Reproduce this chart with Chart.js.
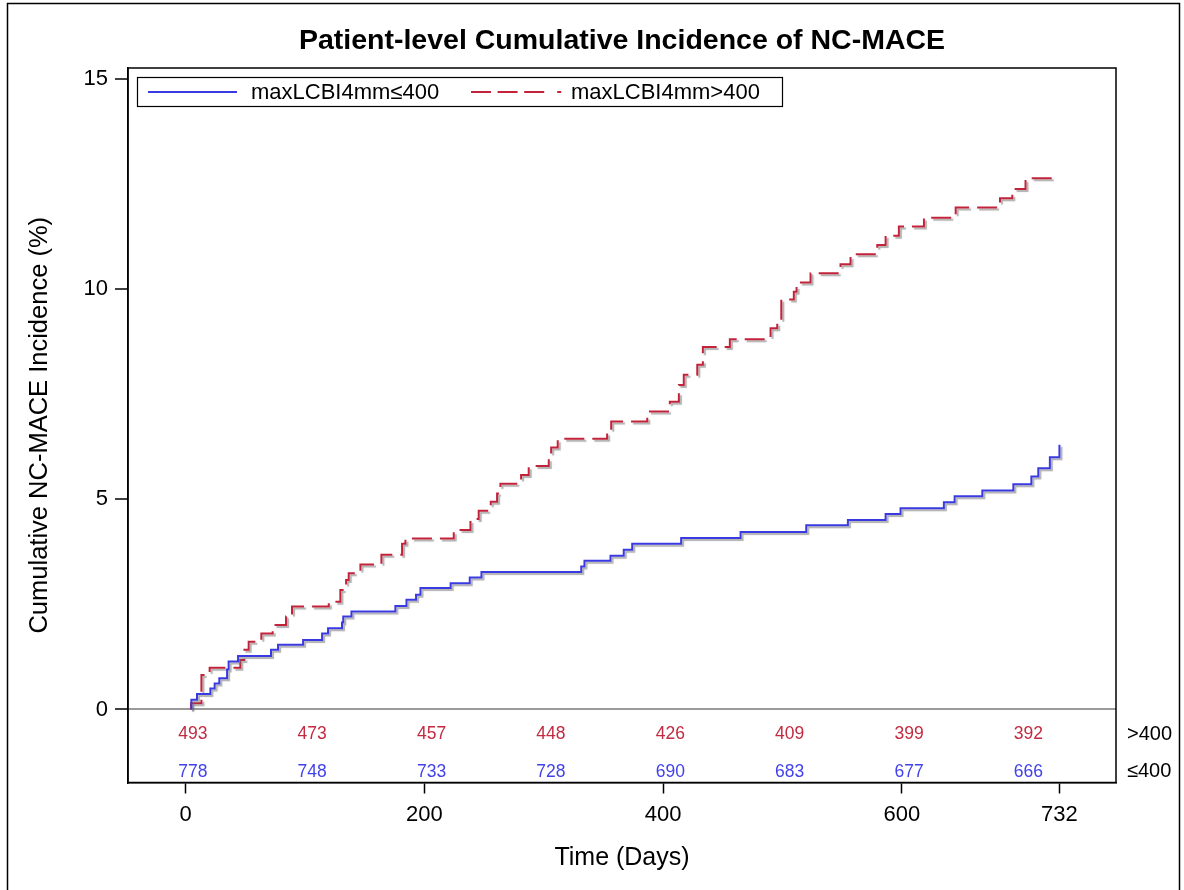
<!DOCTYPE html>
<html>
<head>
<meta charset="utf-8">
<title>Patient-level Cumulative Incidence of NC-MACE</title>
<script src="https://cdn.jsdelivr.net/npm/chart.js@4.4.0/dist/chart.umd.min.js"></script>
<style>
  html, body { margin: 0; padding: 0; background: #fff; }
  #wrap { width: 1184px; height: 890px; position: relative; }
</style>
</head>
<body>
<div id="wrap"><canvas id="kmChart"></canvas></div>
<script>
/*************** data ***************/
// maxLCBI4mm<=400 (blue, solid)
const lowDays = [4.8, 4.8, 9.5, 20.7, 24.3, 28.2, 34.7, 36, 43.9, 71.5,
  77.4, 98.4, 114.3, 119.3, 131, 132, 138.9, 175.7, 185, 193,
  196.7, 222, 238, 247.8, 331.4, 334.1, 355.9, 367, 374.1, 415.1,
  464.9, 519.9, 554.8, 586.4, 598.9, 635.2, 644.2, 667.4, 693.4, 708.5,
  714.3, 724, 732];
const lowPct = [0, 0.23, 0.37, 0.50, 0.62, 0.74, 0.95, 1.14, 1.27, 1.42,
  1.54, 1.65, 1.81, 1.93, 2.07, 2.21, 2.33, 2.46, 2.61, 2.73,
  2.89, 3.00, 3.14, 3.27, 3.40, 3.54, 3.66, 3.80, 3.94, 4.08,
  4.22, 4.38, 4.51, 4.65, 4.79, 4.93, 5.07, 5.21, 5.36, 5.54,
  5.74, 6.00, 6.30];

// maxLCBI4mm>400 (red, dashed)
const highDays = [4.5, 4.5, 13.2, 20.1, 45.8, 49.2, 52.8, 63.4, 72.9, 84.1,
  89.1, 119.9, 129.6, 134.4, 136.6, 146.4, 164, 181.3, 184.1, 224.6,
  238.6, 245.5, 255.6, 260.9, 263.7, 281, 287.4, 304.2, 306.2, 311.7,
  353.1, 356.5, 386.7, 405.6, 413.2, 417.3, 428.6, 433.3, 455.9, 490,
  495.6, 499, 509.5, 511.8, 523.5, 548.6, 557, 579.4, 586.4, 597.5,
  618.5, 645.1, 682.2, 692.5, 703.6, 732];
const highPct = [0, 0.15, 0.82, 0.99, 1.18, 1.42, 1.61, 1.81, 2.01, 2.21,
  2.45, 2.56, 2.84, 3.08, 3.24, 3.45, 3.68, 3.94, 4.07, 4.27,
  4.53, 4.73, 4.94, 5.14, 5.37, 5.58, 5.79, 6.06, 6.23, 6.44,
  6.65, 6.85, 7.09, 7.32, 7.72, 7.96, 8.20, 8.62, 8.81, 9.07,
  9.27, 9.75, 9.94, 10.16, 10.38, 10.59, 10.83, 11.05, 11.27, 11.49,
  11.70, 11.94, 12.16, 12.38, 12.64, 12.64];

// numbers at risk
const atRiskDays = [6, 106, 206, 306, 406, 506, 606, 706];
const atRiskHigh = [493, 473, 457, 448, 426, 409, 399, 392];
const atRiskLow = [778, 748, 733, 728, 690, 683, 677, 666];

// axes
const xTicks = [0, 200, 400, 600, 732];
const yTicks = [0, 5, 10, 15];

const seriesNames = ['maxLCBI4mm\u2264400', 'maxLCBI4mm>400'];
const rowLabels = ['>400', '\u2264400'];

/*************** styles ***************/
const FONT = "'Liberation Sans', Arial, sans-serif";
const BLUE = '#3a3ae2';
const RED = '#c3223b';
const BLUE_TXT = '#4242ea';
const RED_TXT = '#c22a40';
const DASH = [20, 8];

function toPoints(days, pct) {
  return days.map((d, i) => ({ x: d, y: pct[i] }));
}

/*************** plugins ***************/
// gray drop shadow under the step lines
const shadowPlugin = {
  id: 'stepShadow',
  beforeDatasetDraw(chart) {
    const c = chart.ctx;
    c.save();
    c.shadowColor = 'rgba(110,110,110,0.55)';
    c.shadowOffsetX = 2;
    c.shadowOffsetY = 2;
    c.shadowBlur = 1;
  },
  afterDatasetDraw(chart) {
    chart.ctx.restore();
  }
};

// title, frame, legend, at-risk rows, outer border
const decorPlugin = {
  id: 'decor',
  afterDraw(chart) {
    const c = chart.ctx;
    const a = chart.chartArea;
    const xs = chart.scales.x;
    const ys = chart.scales.y;
    c.save();

    // outer border
    c.strokeStyle = '#000';
    c.lineWidth = 1.5;
    c.strokeRect(7.5, 3.5, 1172, 900);

    // plot frame
    c.lineWidth = 1.5;
    c.strokeRect(a.left, a.top, a.right - a.left, a.bottom - a.top);

    // title
    c.fillStyle = '#000';
    c.font = 'bold 28.5px ' + FONT;
    c.textAlign = 'center';
    c.textBaseline = 'middle';
    c.fillText('Patient-level Cumulative Incidence of NC-MACE', (a.left + a.right) / 2, 41);

    // legend
    const lx = a.left + 9, ly = a.top + 9, lw = 645, lh = 29;
    c.lineWidth = 1.2;
    c.strokeRect(lx + 0.5, ly + 0.5, lw, lh);
    const my = ly + lh / 2 + 0.5;
    c.lineWidth = 2;
    c.strokeStyle = BLUE;
    c.beginPath(); c.moveTo(lx + 11, my); c.lineTo(lx + 100, my); c.stroke();
    c.strokeStyle = RED;
    c.setLineDash([20, 6.6, 20, 6.6, 20, 13, 4, 40]);
    c.beginPath(); c.moveTo(lx + 334, my); c.lineTo(lx + 425, my); c.stroke();
    c.setLineDash([]);
    c.fillStyle = '#000';
    c.font = '22px ' + FONT;
    c.textAlign = 'left';
    c.fillText(seriesNames[0], lx + 114, my + 1);
    c.fillText(seriesNames[1], lx + 434, my + 1);

    // numbers at risk
    const yHigh = ys.getPixelForValue(-0.583);
    const yLow = ys.getPixelForValue(-1.48);
    c.font = '17.5px ' + FONT;
    c.textAlign = 'center';
    atRiskDays.forEach((d, i) => {
      const px = xs.getPixelForValue(d);
      c.fillStyle = RED_TXT;
      c.fillText(String(atRiskHigh[i]), px, yHigh);
      c.fillStyle = BLUE_TXT;
      c.fillText(String(atRiskLow[i]), px, yLow);
    });
    c.fillStyle = '#000';
    c.font = '20px ' + FONT;
    c.textAlign = 'left';
    c.fillText(rowLabels[0], a.right + 11, yHigh);
    c.fillText(rowLabels[1], a.right + 11, yLow);

    c.restore();
  }
};

/*************** chart ***************/
const ctx = document.getElementById('kmChart').getContext('2d');

new Chart(ctx, {
  type: 'line',
  data: {
    datasets: [
      {
        label: seriesNames[0],
        data: toPoints(lowDays, lowPct),
        borderColor: BLUE,
        borderWidth: 2,
        stepped: 'before',
        pointRadius: 0,
        fill: false
      },
      {
        label: seriesNames[1],
        data: toPoints(highDays, highPct),
        borderColor: RED,
        borderWidth: 2,
        borderDash: DASH,
        stepped: 'before',
        pointRadius: 0,
        fill: false
      }
    ]
  },
  options: {
    responsive: true,
    maintainAspectRatio: false,
    animation: false,
    layout: {
      padding: { top: 68, right: 68, left: 20, bottom: 0 }
    },
    scales: {
      x: {
        type: 'linear',
        min: -48.3,
        max: 779.4,
        afterBuildTicks(scale) {
          scale.ticks = xTicks.map(v => ({ value: v }));
        },
        afterFit(scale) {
          scale.height = 107.5;
        },
        ticks: {
          autoSkip: false,
          maxRotation: 0,
          padding: 8,
          color: '#000',
          font: { family: FONT, size: 22 }
        },
        grid: {
          drawOnChartArea: false,
          tickLength: 11,
          tickColor: '#000',
          tickWidth: 1.5
        },
        border: { display: true, color: '#000', width: 1.5 },
        title: {
          display: true,
          text: 'Time (Days)',
          color: '#000',
          font: { family: FONT, size: 25 },
          padding: { top: 0, bottom: 17 }
        }
      },
      y: {
        type: 'linear',
        min: -1.737,
        max: 15.26,
        afterBuildTicks(scale) {
          scale.ticks = yTicks.map(v => ({ value: v }));
        },
        afterFit(scale) {
          scale.width = 108;
        },
        ticks: {
          padding: 7,
          color: '#000',
          font: { family: FONT, size: 22 }
        },
        grid: {
          drawOnChartArea: true,
          color: (c) => (c.tick && c.tick.value === 0 ? '#9a9a9a' : 'rgba(0,0,0,0)'),
          lineWidth: 2,
          tickLength: 13,
          tickColor: '#000',
          tickWidth: 1.5
        },
        border: { display: true, color: '#000', width: 1.5 },
        title: {
          display: true,
          text: 'Cumulative NC-MACE Incidence (%)',
          color: '#000',
          font: { family: FONT, size: 25.5 },
          padding: { top: 5, bottom: 0 }
        }
      }
    },
    plugins: {
      legend: { display: false },
      title: { display: false },
      tooltip: { enabled: false }
    }
  },
  plugins: [shadowPlugin, decorPlugin]
});
</script>
</body>
</html>
